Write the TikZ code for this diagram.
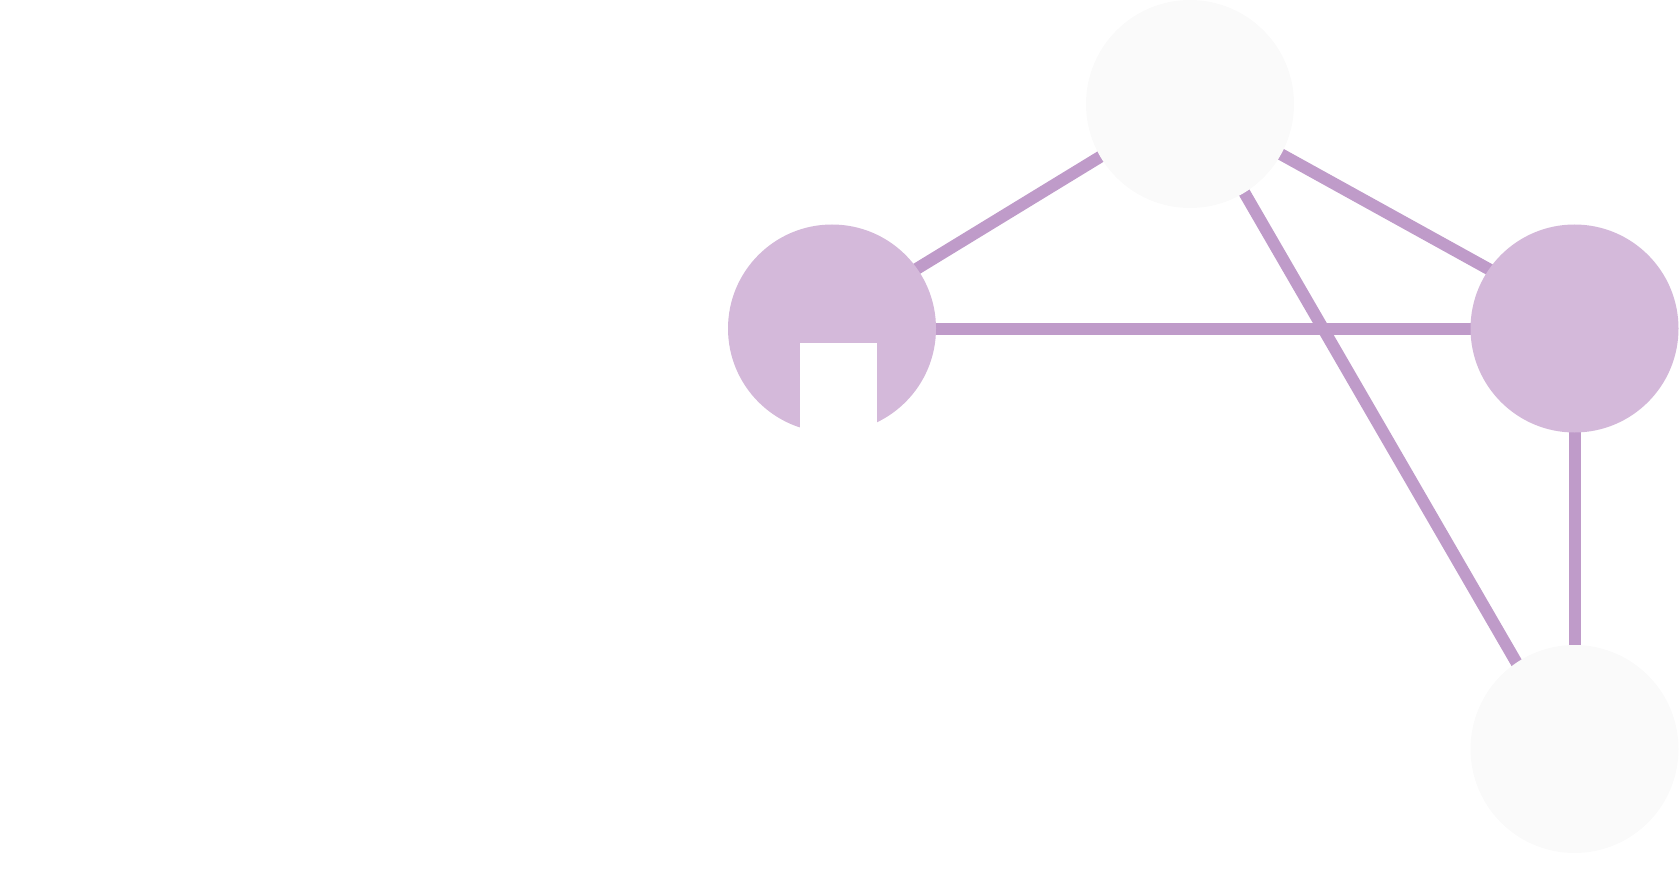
\documentclass[tikz,border=0pt]{standalone}
\definecolor{edgec}{HTML}{BF9BC9}
\definecolor{purplefill}{HTML}{D4B9DA}
\definecolor{lightfill}{HTML}{FAFAFA}
\begin{document}
\begin{tikzpicture}[x=1pt,y=-1pt,
  vert/.style={circle,minimum size=208pt,inner sep=0pt,draw=none},
  pnode/.style={vert,fill=purplefill},
  lnode/.style={vert,fill=lightfill},
  link/.style={draw=edgec,line width=12pt}]
\useasboundingbox (0,0) rectangle (1679,896);
\coordinate (cA) at (832,328.5);
\coordinate (cB) at (1190,104);
\coordinate (cC) at (1574.5,328.5);
\coordinate (cD) at (1574.5,749);
\draw[link] ([yshift=8pt]cA) -- ([yshift=2pt]cB);
\draw[link] (cB) -- ([yshift=12pt]cC);
\draw[link] (cA) -- (cC);
\draw[link] ([xshift=3pt]cB) -- ([xshift=-8pt]cD);
\draw[link] (cC) -- (cD);
\node[pnode] (A) at (cA) {};
\node[lnode] (B) at (cB) {};
\node[pnode] (C) at (cC) {};
\node[lnode] (D) at (cD) {};
\fill[white] (800,343) rectangle (877,440);
\end{tikzpicture}
\end{document}
